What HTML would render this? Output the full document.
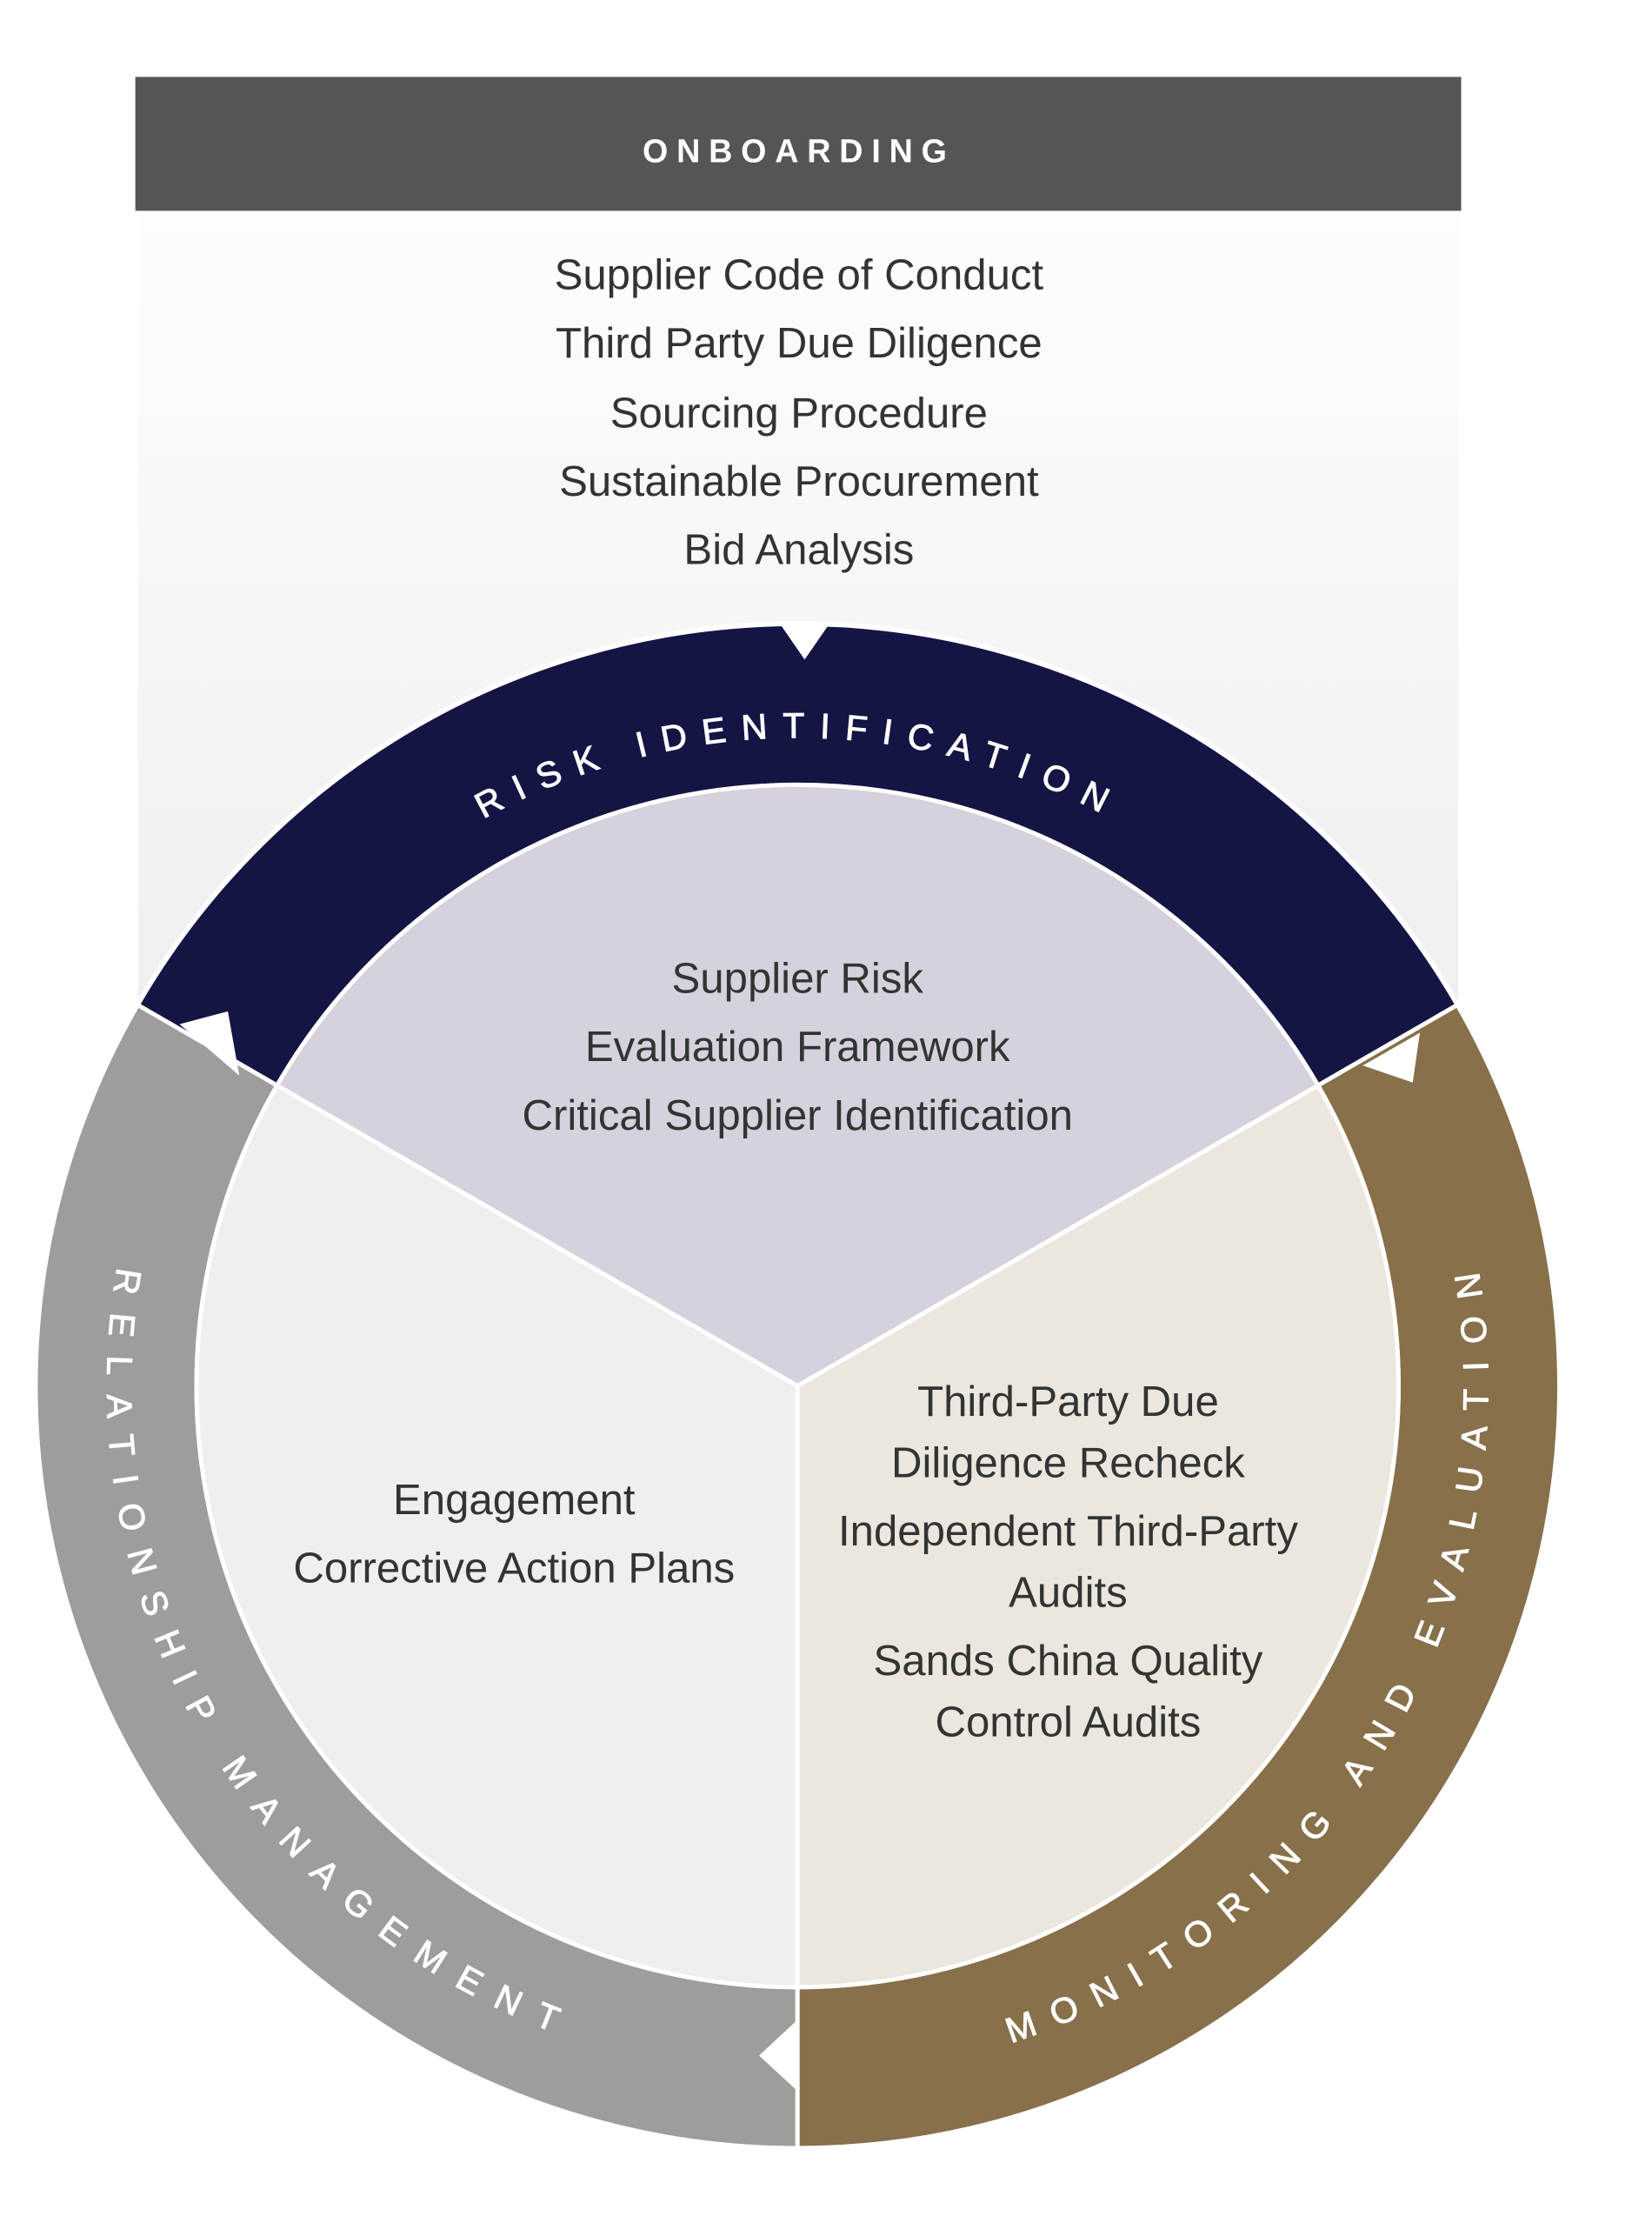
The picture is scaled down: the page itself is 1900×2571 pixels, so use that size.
<!DOCTYPE html>
<html><head><meta charset="utf-8"><style>
html,body{margin:0;padding:0;background:#fff;}
svg{display:block;}
.b{font-family:"Liberation Sans",sans-serif;font-size:30px;fill:#333;text-anchor:middle;}
.r{font-family:"Liberation Sans",sans-serif;font-size:25px;fill:#fff;stroke:#fff;stroke-width:0.6;}
</style></head><body>
<svg width="1900" height="2571" viewBox="0 0 1160 1569.7" xmlns="http://www.w3.org/2000/svg">
<defs>
<linearGradient id="g" x1="0" y1="0" x2="0" y2="1">
<stop offset="0" stop-color="#fdfdfd"/><stop offset="1" stop-color="#efefef"/>
</linearGradient>
<path id="pt" d="M339.4,575 A455 455 0 0 1 780.6,575"/>
<path id="pl" d="M82.3,889.6 A485 485 0 0 0 410.1,1434.3"/>
<path id="pr" d="M709.9,1434.3 A485 485 0 0 0 1034.4,872.2"/>
</defs>
<rect x="97" y="148" width="927" height="560" fill="url(#g)"/>
<rect x="95" y="54" width="931" height="94" fill="#565553"/>
<text x="561" y="114" text-anchor="middle" font-family="Liberation Sans,sans-serif" font-size="23" font-weight="bold" fill="#fff" letter-spacing="6">ONBOARDING</text>
<text class="b" x="561" y="203">Supplier Code of Conduct</text>
<text class="b" x="561" y="251">Third Party Due Diligence</text>
<text class="b" x="561" y="300">Sourcing Procedure</text>
<text class="b" x="561" y="348">Sustainable Procurement</text>
<text class="b" x="561" y="396">Bid Analysis</text>

<circle cx="560" cy="973" r="537" fill="#fff"/>
<g stroke="#fff" stroke-width="3">
<path d="M96.7,705.5 A535 535 0 0 1 1023.3,705.5 L925.5,762 A422 422 0 0 0 194.5,762 Z" fill="#141544"/>
<path d="M560,1508 A535 535 0 0 1 96.7,705.5 L194.5,762 A422 422 0 0 0 560,1395 Z" fill="#9e9d9b"/>
<path d="M1023.3,705.5 A535 535 0 0 1 560,1508 L560,1395 A422 422 0 0 0 925.5,762 Z" fill="#87704a"/>
<path d="M560,973 L194.5,762 A422 422 0 0 1 925.5,762 Z" fill="#d6d1dc"/>
<path d="M560,973 L560,1395 A422 422 0 0 1 194.5,762 Z" fill="#efefef"/>
<path d="M560,973 L925.5,762 A422 422 0 0 1 560,1395 Z" fill="#ebe6de"/>
</g>
<polygon points="547,437 583,437 565,463" fill="#fff"/>
<polygon points="126,719 160,710 168,755" fill="#fff"/>
<polygon points="957,748 997,725 992,760" fill="#fff"/>
<polygon points="533,1443 560,1418 560,1468" fill="#fff"/>

<text class="r"><textPath href="#pt" textLength="452" lengthAdjust="spacing">RISK IDENTIFICATION</textPath></text>
<text class="r"><textPath href="#pl" textLength="670" lengthAdjust="spacing">RELATIONSHIP MANAGEMENT</textPath></text>
<text class="r"><textPath href="#pr" textLength="690" lengthAdjust="spacing">MONITORING AND EVALUATION</textPath></text>

<text class="b" x="560" y="697">Supplier Risk</text>
<text class="b" x="560" y="745">Evaluation Framework</text>
<text class="b" x="560" y="793">Critical Supplier Identification</text>
<text class="b" x="361" y="1063">Engagement</text>
<text class="b" x="361" y="1111">Corrective Action Plans</text>
<text class="b" x="750" y="994">Third-Party Due</text>
<text class="b" x="750" y="1037">Diligence Recheck</text>
<text class="b" x="750" y="1085">Independent Third-Party</text>
<text class="b" x="750" y="1128">Audits</text>
<text class="b" x="750" y="1176">Sands China Quality</text>
<text class="b" x="750" y="1219">Control Audits</text>
</svg>
</body></html>
